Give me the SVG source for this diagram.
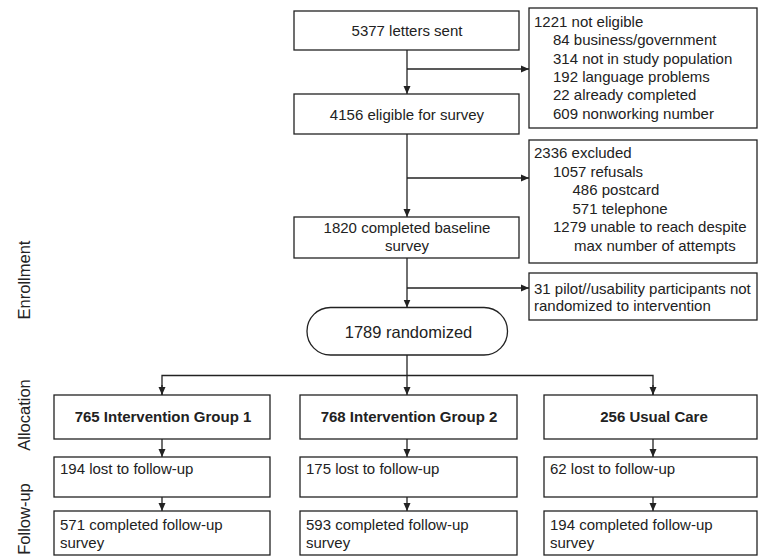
<svg xmlns="http://www.w3.org/2000/svg" width="758" height="557" viewBox="0 0 758 557">
<style>
.box{fill:#fff;stroke:#222;stroke-width:1.3}
.ln{fill:none;stroke:#222;stroke-width:1.3}
text{font-family:"Liberation Sans",Arial,sans-serif;font-size:15px;fill:#222}
.c{text-anchor:middle}
.b{font-weight:bold}
.side{font-size:16.5px;text-anchor:middle}
</style>
<defs>
<marker id="ah" markerWidth="8" markerHeight="8" viewBox="0 0 8 8" refX="8" refY="4" orient="auto" markerUnits="userSpaceOnUse">
<path d="M0,0.5 L8,4 L0,7.5 Z" fill="#222"/>
</marker>
</defs>
<rect width="758" height="557" fill="#fff"/>

<g id="labels">
<text class="side" transform="translate(30,280) rotate(-90)">Enrollment</text>
<text class="side" transform="translate(30,415) rotate(-90)">Allocation</text>
<text class="side" transform="translate(30,519) rotate(-90)">Follow-up</text>
</g>

<g id="connectors">
<line class="ln" x1="407" y1="50" x2="407" y2="94" marker-end="url(#ah)"/>
<line class="ln" x1="407" y1="69" x2="529" y2="69" marker-end="url(#ah)"/>
<line class="ln" x1="407" y1="134" x2="407" y2="217" marker-end="url(#ah)"/>
<line class="ln" x1="407" y1="178" x2="529" y2="178" marker-end="url(#ah)"/>
<line class="ln" x1="407" y1="258" x2="407" y2="307.5" marker-end="url(#ah)"/>
<line class="ln" x1="407" y1="288" x2="529" y2="288" marker-end="url(#ah)"/>
<line class="ln" x1="407" y1="355" x2="407" y2="395" marker-end="url(#ah)"/>
<polyline class="ln" points="162,395 162,375.5 653,375.5 653,395"/>
<line class="ln" x1="162" y1="385" x2="162" y2="395" marker-end="url(#ah)"/>
<line class="ln" x1="653" y1="385" x2="653" y2="395" marker-end="url(#ah)"/>
<line class="ln" x1="162" y1="439" x2="162" y2="457" marker-end="url(#ah)"/>
<line class="ln" x1="407" y1="439" x2="407" y2="457" marker-end="url(#ah)"/>
<line class="ln" x1="653" y1="439" x2="653" y2="457" marker-end="url(#ah)"/>
<line class="ln" x1="162" y1="497" x2="162" y2="511" marker-end="url(#ah)"/>
<line class="ln" x1="407" y1="497" x2="407" y2="511" marker-end="url(#ah)"/>
<line class="ln" x1="653" y1="497" x2="653" y2="511" marker-end="url(#ah)"/>
</g>

<g id="letters">
<rect class="box" x="294" y="11" width="225" height="39"/>
<text class="c" x="407" y="36">5377 letters sent</text>
</g>
<g id="noteligible">
<rect class="box" x="529" y="8" width="228" height="120"/>
<text x="534" y="27">1221 not eligible</text>
<text x="553" y="45.3">84 business/government</text>
<text x="553" y="63.6">314 not in study population</text>
<text x="553" y="81.9">192 language problems</text>
<text x="553" y="100.2">22 already completed</text>
<text x="553" y="118.5">609 nonworking number</text>
</g>
<g id="eligible">
<rect class="box" x="294" y="94" width="225" height="40"/>
<text class="c" x="407" y="119.5">4156 eligible for survey</text>
</g>
<g id="excluded">
<rect class="box" x="529" y="140" width="228" height="123"/>
<text x="534" y="158">2336 excluded</text>
<text x="553" y="176.5">1057 refusals</text>
<text x="572.5" y="195">486 postcard</text>
<text x="572.5" y="213.5">571 telephone</text>
<text x="553" y="232">1279 unable to reach despite</text>
<text x="574" y="250.5">max number of attempts</text>
</g>
<g id="baseline">
<rect class="box" x="294" y="217" width="225" height="41"/>
<text class="c" x="407" y="233">1820 completed baseline</text>
<text class="c" x="407" y="250.5">survey</text>
</g>
<g id="pilot">
<rect class="box" x="529" y="273" width="228" height="47"/>
<text x="534" y="293.5">31 pilot//usability participants not</text>
<text x="534" y="311">randomized to intervention</text>
</g>
<g id="randomized">
<rect class="box" x="307" y="307.5" width="200.5" height="47.5" rx="23.5" ry="23.5"/>
<text class="c" x="408.5" y="337.5" style="font-size:16.5px">1789 randomized</text>
</g>

<g id="group1">
<rect class="box" x="54" y="395" width="216" height="44"/>
<text class="c b" x="163" y="421.5">765 Intervention Group 1</text>
</g>
<g id="group2">
<rect class="box" x="300" y="395" width="217" height="44"/>
<text class="c b" x="409" y="421.5">768 Intervention Group 2</text>
</g>
<g id="usualcare">
<rect class="box" x="544" y="395" width="213" height="44"/>
<text class="c b" x="654" y="421.5">256 Usual Care</text>
</g>

<g id="lost1">
<rect class="box" x="54" y="457" width="216" height="40"/>
<text x="60" y="474">194 lost to follow-up</text>
</g>
<g id="lost2">
<rect class="box" x="300" y="457" width="217" height="40"/>
<text x="306" y="474">175 lost to follow-up</text>
</g>
<g id="lost3">
<rect class="box" x="544" y="457" width="213" height="40"/>
<text x="550" y="474">62 lost to follow-up</text>
</g>

<g id="completed1">
<rect class="box" x="54" y="511" width="216" height="44"/>
<text x="60" y="529.5">571 completed follow-up</text>
<text x="60" y="548">survey</text>
</g>
<g id="completed2">
<rect class="box" x="300" y="511" width="217" height="44"/>
<text x="306" y="529.5">593 completed follow-up</text>
<text x="306" y="548">survey</text>
</g>
<g id="completed3">
<rect class="box" x="544" y="511" width="213" height="44"/>
<text x="550" y="529.5">194 completed follow-up</text>
<text x="550" y="548">survey</text>
</g>
</svg>
